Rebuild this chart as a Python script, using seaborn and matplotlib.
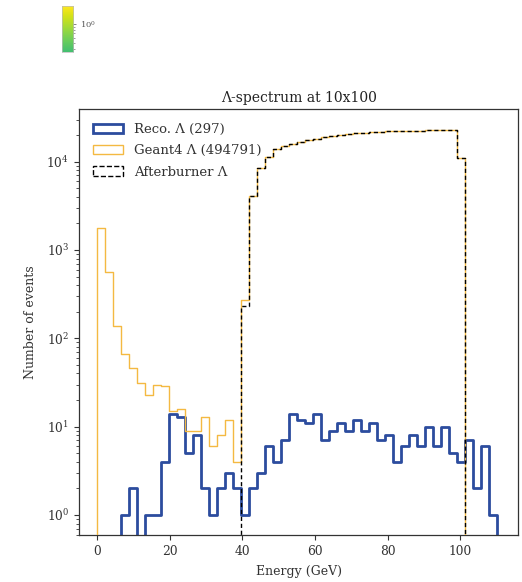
import numpy as np
import pandas as pd
import matplotlib
matplotlib.use("Agg")
import matplotlib.pyplot as plt
import seaborn as sns
from matplotlib.patches import Patch

# ---------------- data ----------------
energy_low = 0.0
energy_high = 110.0
n_energy_bins = 50

reco_counts = [0, 0, 0, 1, 2, 0, 1, 1, 4, 14,
               13, 5, 8, 2, 1, 2, 3, 2, 1, 2,
               3, 6, 4, 7, 14, 12, 11, 14, 7, 9,
               11, 9, 12, 9, 11, 7, 8, 4, 6, 8,
               6, 10, 6, 10, 5, 4, 7, 2, 6, 1]

geant4_counts = [1780, 570, 138, 67, 46, 31, 23, 30, 29, 15,
                 16, 9, 9, 13, 6, 8, 12, 4, 270, 4130,
                 8440, 11200, 13960, 15100, 15900, 16750, 17500, 18300, 18900, 19600,
                 20100, 20600, 21000, 21400, 21600, 21900, 22100, 22300, 22350, 22500,
                 22500, 22700, 22700, 22800, 22900, 10950, 0, 0, 0, 0]

afterburner_counts = [0, 0, 0, 0, 0, 0, 0, 0, 0, 0,
                      0, 0, 0, 0, 0, 0, 0, 0, 230, 4130,
                      8440, 11200, 13960, 15100, 15900, 16750, 17500, 18300, 18900, 19600,
                      20100, 20600, 21000, 21400, 21600, 21900, 22100, 22300, 22350, 22500,
                      22500, 22700, 22700, 22800, 22900, 10950, 0, 0, 0, 0]

series_labels = ["Reco. Λ (297)", "Geant4 Λ (494791)", "Afterburner Λ"]
title_text = "Λ-spectrum at 10x100"
x_label = "Energy (GeV)"
y_label = "Number of events"
x_ticks = [0, 20, 40, 60, 80, 100]

# ---------------- styling ----------------
sns.set_style("ticks")
plt.rcParams["font.family"] = ["DejaVu Serif"]
plt.rcParams["mathtext.fontset"] = "dejavuserif"

W, H = 522, 582
fig = plt.figure(figsize=(W / 100, H / 100), dpi=100)
ax = fig.add_axes([79 / W, 1 - 535 / H, (518.3 - 79) / W, (535 - 109.3) / H])
ax.set_yscale("log")

bin_w = (energy_high - energy_low) / n_energy_bins
centers = energy_low + bin_w * (np.arange(n_energy_bins) + 0.5)
# one empty bin on each side so the step outline drops to the baseline
edges = list(energy_low + bin_w * np.arange(-1, n_energy_bins + 2))

colors = ["#2c4c9e", "#f4b942", "black"]
widths = [2.0, 1.0, 1.0]
styles = ["-", "-", (0, (3.0, 2.0))]
zorders = [2, 3, 4]

for counts, c, lw, ls, z in zip([reco_counts, geant4_counts, afterburner_counts],
                                colors, widths, styles, zorders):
    df = pd.DataFrame({"energy": centers, "count": np.asarray(counts, dtype=float)})
    sns.histplot(data=df, x="energy", weights="count", bins=edges, element="step",
                 fill=False, color=c, linewidth=lw, linestyle=ls, ax=ax, zorder=z)

ax.set_xlim(-5, 116)
ax.set_ylim(0.593, 39200)
ax.set_xticks(x_ticks)
ax.tick_params(axis="both", which="major", labelsize=8.8, length=3.5, width=0.8,
               color="#333333", labelcolor="#333333")
ax.tick_params(axis="y", which="minor", length=2, width=0.6, color="#333333")
for s in ax.spines.values():
    s.set_color("#333333")
    s.set_linewidth(0.9)

ax.set_title(title_text, fontsize=10, color="#222222", pad=5)
ax.set_xlabel(x_label, fontsize=9, color="#333333", labelpad=5)
ax.set_ylabel(y_label, fontsize=9, color="#333333", labelpad=7)

handles = [Patch(facecolor="none", edgecolor=colors[0], linewidth=2.0),
           Patch(facecolor="none", edgecolor=colors[1], linewidth=1.0),
           Patch(facecolor="none", edgecolor=colors[2], linewidth=1.0, linestyle="--")]
ax.legend(handles, series_labels, loc="upper left", frameon=False, fontsize=9.5,
          labelcolor="#333333", borderaxespad=0.65, handlelength=2.3,
          labelspacing=0.62, handletextpad=0.8, bbox_to_anchor=(0.0, 1.0))

# small cropped colour-bar fragment in the top-left corner
cax = fig.add_axes([61.7 / W, 1 - 52 / H, 11.6 / W, 46 / H])
grad = np.linspace(0.70, 1.0, 200).reshape(-1, 1)
cax.imshow(grad, aspect="auto", cmap="viridis", vmin=0, vmax=1, origin="lower",
           extent=[0, 1, -0.45, 0.28])
cax.set_xticks([])
cax.yaxis.tick_right()
cax.set_yticks([0.0])
cax.set_yticklabels(["$10^0$"])
cax.set_yticks(np.log10([0.4, 0.5, 0.6, 0.7, 0.8, 0.9]), minor=True)
cax.tick_params(axis="y", which="major", labelsize=6, length=2, width=0.5,
                pad=2.5, colors="#555555")
cax.tick_params(axis="y", which="minor", length=1.2, width=0.4, colors="#555555")
for s in cax.spines.values():
    s.set_color("#bbbbbb")
    s.set_linewidth(0.5)

fig.savefig("out.png", dpi=100)
